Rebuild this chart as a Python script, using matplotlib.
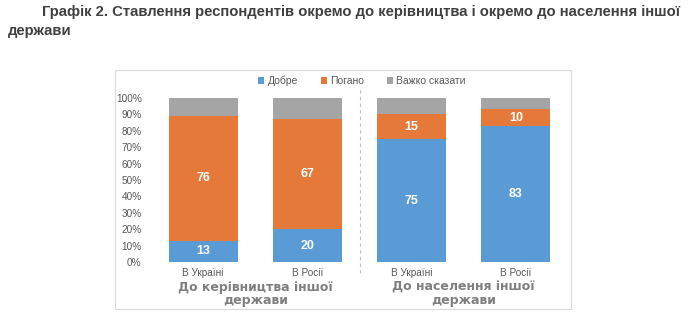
import matplotlib
matplotlib.use("Agg")
import matplotlib.pyplot as plt
from matplotlib.patches import Rectangle, Patch
import numpy as np

categories = ["В Україні", "В Росії", "В Україні", "В Росії"]
groups = ["До керівництва іншої\nдержави", "До населення іншої\nдержави"]
good = [13, 20, 75, 83]
bad = [76, 67, 15, 10]
hard = [11, 13, 10, 7]
series_names = ["Добре", "Погано", "Важко сказати"]
colors = ["#5B9BD5", "#E4793A", "#A5A5A5"]

plt.rcParams["font.family"] = ["Liberation Sans", "DejaVu Sans"]

fig = plt.figure(figsize=(6.9, 3.24), dpi=100)
W, H = 690, 324

def fx(px):
    return px / W

def fy(py):
    return 1 - py / H

# title
fig.text(fx(42), fy(12), "Графік 2. Ставлення респондентів окремо до керівництва і окремо до населення іншої",
         fontsize=10.7, fontweight="bold", color="#404040", va="center", ha="left")
fig.text(fx(8), fy(31), "держави", fontsize=10.7, fontweight="bold", color="#404040",
         va="center", ha="left")

# chart frame
fig.patches.append(Rectangle((fx(115), fy(309)), fx(571) - fx(115), fy(70) - fy(309),
                             transform=fig.transFigure, fill=False, edgecolor="#D9D9D9",
                             linewidth=0.8))

ax = fig.add_axes([fx(150), fy(262), fx(568) - fx(150), fy(98) - fy(262)])
x = np.arange(len(categories))
w = 0.66
good_a = np.array(good)
bad_a = np.array(bad)
hard_a = np.array(hard)
ax.bar(x, good_a, w, color=colors[0], label=series_names[0])
ax.bar(x, bad_a, w, bottom=good_a, color=colors[1], label=series_names[1])
ax.bar(x, hard_a, w, bottom=good_a + bad_a, color=colors[2], label=series_names[2])

for xi, g, b in zip(x, good_a, bad_a):
    ax.text(xi, g / 2, str(g), ha="center", va="center", color="white",
            fontsize=9, fontweight="bold")
    ax.text(xi, g + b / 2, str(b), ha="center", va="center", color="white",
            fontsize=9, fontweight="bold")

ax.set_xlim(-0.51, 3.5)
ax.set_ylim(0, 100)
ax.set_yticks(np.arange(0, 101, 10))
ax.set_yticklabels([f"{v}%" for v in range(0, 101, 10)])
ax.tick_params(axis="y", length=0, labelsize=7.2, labelcolor="#595959", pad=6)
ax.set_xticks([])
for s in ax.spines.values():
    s.set_visible(False)

# group separator
ax.plot([1.5, 1.5], [-7, 107], linestyle=(0, (3, 3)), color="#BFBFBF",
        linewidth=0.8, clip_on=False)

# category labels
for xi, c in zip(x, categories):
    ax.text(xi, -7, c, ha="center", va="center", fontsize=7.2, color="#595959")
for gi, gname in enumerate(groups):
    ax.text(0.5 + 2 * gi, -11.5, gname, ha="center", va="top", fontsize=9,
            fontweight="bold", color="#7F7F7F", linespacing=1.0,
            family=["DejaVu Sans"])

handles = [Patch(facecolor=c, label=n) for c, n in zip(colors, series_names)]
fig.legend(handles=handles, loc="center", bbox_to_anchor=(fx(362), fy(81)), ncol=3,
           frameon=False, fontsize=7.5, handlelength=0.6, handleheight=0.6,
           handletextpad=0.3, columnspacing=2.2, labelcolor="#595959")

fig.savefig("out.png", dpi=100)
